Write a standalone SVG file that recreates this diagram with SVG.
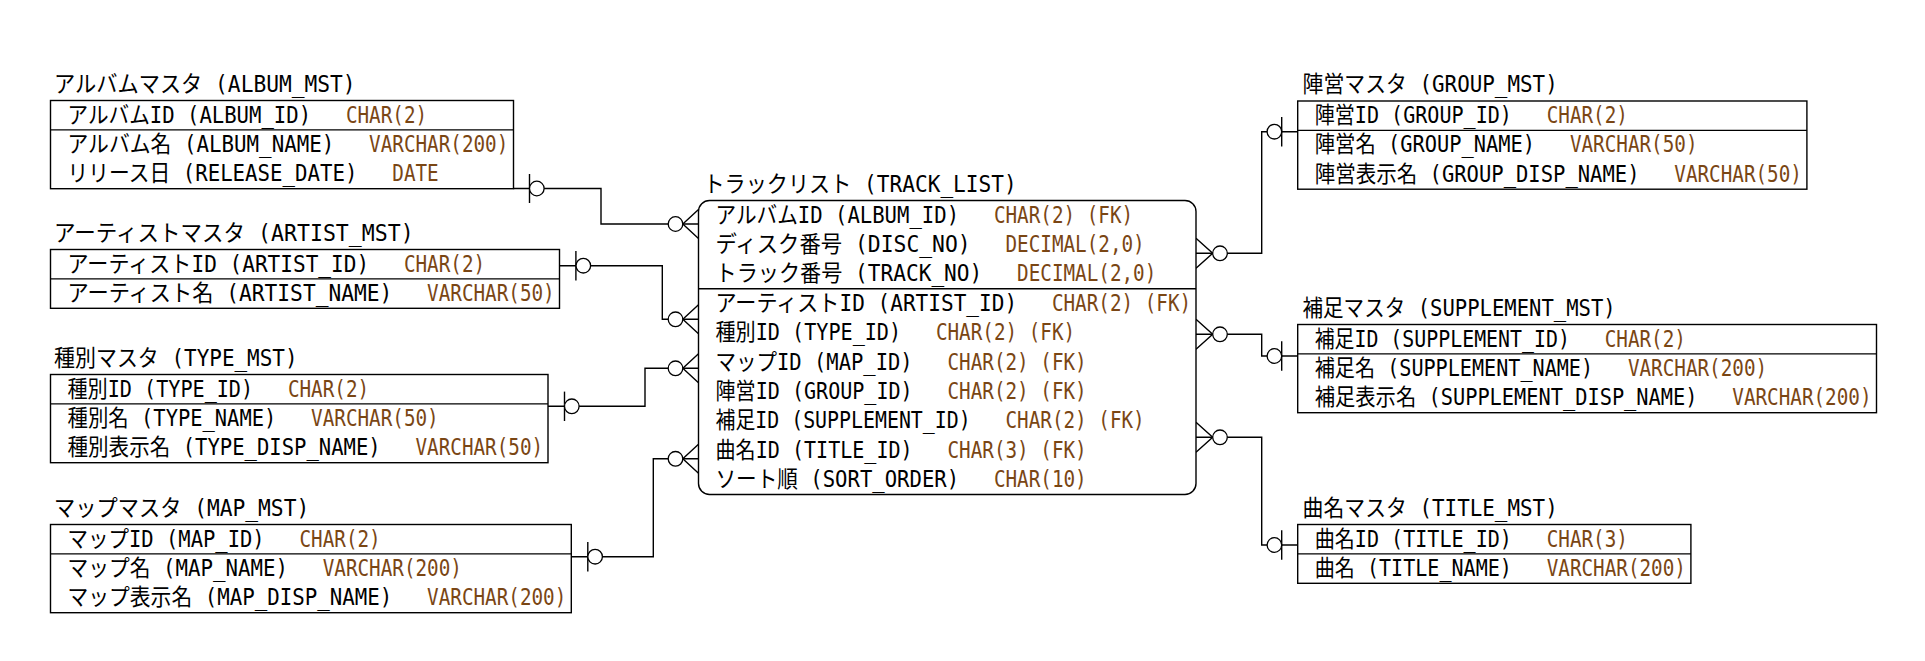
<svg xmlns="http://www.w3.org/2000/svg" width="1925" height="661" viewBox="0 0 1925 661">
<style>
text{font-family:"DejaVu Sans Mono","Noto Sans CJK JP",monospace;font-size:23px;fill:#000}
.ty{fill:#7a4614}
.box{fill:#fff;stroke:#000;stroke-width:1.4}
.div{stroke:#000;stroke-width:1.4}
.ln{fill:none;stroke:#000;stroke-width:1.4}
.cir{fill:#fff;stroke:#000;stroke-width:1.3}
</style>
<rect width="1925" height="661" fill="#fff"/>

<g id="connectors">
  <!-- album -> track -->
  <path class="ln" d="M513.5,188.5 H601 V224 H698.5"/>
  <path class="ln" d="M529.5,174 V203"/>
  <circle class="cir" cx="536.8" cy="188.5" r="7.3"/>
  <path class="ln" d="M682.8,224 L698.5,209.5 M682.8,224 L698.5,238.5"/>
  <circle class="cir" cx="675.5" cy="224" r="7.3"/>
  <!-- artist -> track -->
  <path class="ln" d="M559.5,265.7 H662.3 V319.3 H698.5"/>
  <path class="ln" d="M575.9,251 V280.4"/>
  <circle class="cir" cx="583.3" cy="265.7" r="7.3"/>
  <path class="ln" d="M682.8,319.3 L698.5,304.8 M682.8,319.3 L698.5,333.8"/>
  <circle class="cir" cx="675.5" cy="319.3" r="7.3"/>
  <!-- type -> track -->
  <path class="ln" d="M548,406.3 H645 V368.3 H698.5"/>
  <path class="ln" d="M564.5,391.6 V421"/>
  <circle class="cir" cx="571.8" cy="406.3" r="7.3"/>
  <path class="ln" d="M682.8,368.3 L698.5,353.8 M682.8,368.3 L698.5,382.8"/>
  <circle class="cir" cx="675.5" cy="368.3" r="7.3"/>
  <!-- map -> track -->
  <path class="ln" d="M571.3,556.7 H653.3 V458.8 H698.5"/>
  <path class="ln" d="M587.8,542 V571.4"/>
  <circle class="cir" cx="595.1" cy="556.7" r="7.3"/>
  <path class="ln" d="M682.8,458.8 L698.5,444.3 M682.8,458.8 L698.5,473.3"/>
  <circle class="cir" cx="675.5" cy="458.8" r="7.3"/>
  <!-- track -> group -->
  <path class="ln" d="M1196,253.3 H1261.7 V131.7 H1297.7"/>
  <path class="ln" d="M1196,238.3 L1212.7,253.3 L1196,268.3"/>
  <circle class="cir" cx="1220" cy="253.3" r="7.3"/>
  <path class="ln" d="M1281.7,117 V146.4"/>
  <circle class="cir" cx="1274.4" cy="131.7" r="7.3"/>
  <!-- track -> supplement -->
  <path class="ln" d="M1196,334.3 H1261.7 V356 H1297.7"/>
  <path class="ln" d="M1196,319.3 L1212.7,334.3 L1196,349.3"/>
  <circle class="cir" cx="1220" cy="334.3" r="7.3"/>
  <path class="ln" d="M1281.7,341.3 V370.7"/>
  <circle class="cir" cx="1274.4" cy="356" r="7.3"/>
  <!-- track -> title -->
  <path class="ln" d="M1196,437.3 H1261.7 V545 H1297.7"/>
  <path class="ln" d="M1196,422.3 L1212.7,437.3 L1196,452.3"/>
  <circle class="cir" cx="1220" cy="437.3" r="7.3"/>
  <path class="ln" d="M1281.7,530.3 V559.7"/>
  <circle class="cir" cx="1274.4" cy="545" r="7.3"/>
</g>

<g id="album_mst">
  <text x="54" y="91.7" textLength="301.6" lengthAdjust="spacingAndGlyphs">アルバムマスタ (ALBUM_MST)</text>
  <rect class="box" x="50.5" y="100.5" width="463" height="88.2"/>
  <line class="div" x1="50.5" y1="129.9" x2="513.5" y2="129.9"/>
  <text x="67.5" y="122.5" textLength="243.6" lengthAdjust="spacingAndGlyphs">アルバムID (ALBUM_ID)</text>
  <text class="ty" x="345.9" y="122.5" textLength="81.2" lengthAdjust="spacingAndGlyphs">CHAR(2)</text>
  <text x="67.5" y="151.9" textLength="266.8" lengthAdjust="spacingAndGlyphs">アルバム名 (ALBUM_NAME)</text>
  <text class="ty" x="369.1" y="151.9" textLength="139.2" lengthAdjust="spacingAndGlyphs">VARCHAR(200)</text>
  <text x="67.5" y="181.3" textLength="290" lengthAdjust="spacingAndGlyphs">リリース日 (RELEASE_DATE)</text>
  <text class="ty" x="392.3" y="181.3" textLength="46.4" lengthAdjust="spacingAndGlyphs">DATE</text>
</g>

<g id="artist_mst">
  <text x="54" y="241" textLength="359.6" lengthAdjust="spacingAndGlyphs">アーティストマスタ (ARTIST_MST)</text>
  <rect class="box" x="50.5" y="249.5" width="509" height="58.8"/>
  <line class="div" x1="50.5" y1="278.9" x2="559.5" y2="278.9"/>
  <text x="67.5" y="271.5" textLength="301.6" lengthAdjust="spacingAndGlyphs">アーティストID (ARTIST_ID)</text>
  <text class="ty" x="403.9" y="271.5" textLength="81.2" lengthAdjust="spacingAndGlyphs">CHAR(2)</text>
  <text x="67.5" y="300.9" textLength="324.8" lengthAdjust="spacingAndGlyphs">アーティスト名 (ARTIST_NAME)</text>
  <text class="ty" x="427.1" y="300.9" textLength="127.6" lengthAdjust="spacingAndGlyphs">VARCHAR(50)</text>
</g>

<g id="type_mst">
  <text x="54" y="365.5" textLength="243.6" lengthAdjust="spacingAndGlyphs">種別マスタ (TYPE_MST)</text>
  <rect class="box" x="50.5" y="374.5" width="497.5" height="88.2"/>
  <line class="div" x1="50.5" y1="403.9" x2="548" y2="403.9"/>
  <text x="67.5" y="396.5" textLength="185.6" lengthAdjust="spacingAndGlyphs">種別ID (TYPE_ID)</text>
  <text class="ty" x="287.9" y="396.5" textLength="81.2" lengthAdjust="spacingAndGlyphs">CHAR(2)</text>
  <text x="67.5" y="425.9" textLength="208.8" lengthAdjust="spacingAndGlyphs">種別名 (TYPE_NAME)</text>
  <text class="ty" x="311.1" y="425.9" textLength="127.6" lengthAdjust="spacingAndGlyphs">VARCHAR(50)</text>
  <text x="67.5" y="455.3" textLength="313.2" lengthAdjust="spacingAndGlyphs">種別表示名 (TYPE_DISP_NAME)</text>
  <text class="ty" x="415.5" y="455.3" textLength="127.6" lengthAdjust="spacingAndGlyphs">VARCHAR(50)</text>
</g>

<g id="map_mst">
  <text x="54" y="515.5" textLength="255.2" lengthAdjust="spacingAndGlyphs">マップマスタ (MAP_MST)</text>
  <rect class="box" x="50.5" y="524.5" width="520.8" height="88.2"/>
  <line class="div" x1="50.5" y1="553.9" x2="571.3" y2="553.9"/>
  <text x="67.5" y="546.5" textLength="197.2" lengthAdjust="spacingAndGlyphs">マップID (MAP_ID)</text>
  <text class="ty" x="299.5" y="546.5" textLength="81.2" lengthAdjust="spacingAndGlyphs">CHAR(2)</text>
  <text x="67.5" y="575.9" textLength="220.4" lengthAdjust="spacingAndGlyphs">マップ名 (MAP_NAME)</text>
  <text class="ty" x="322.7" y="575.9" textLength="139.2" lengthAdjust="spacingAndGlyphs">VARCHAR(200)</text>
  <text x="67.5" y="605.3" textLength="324.8" lengthAdjust="spacingAndGlyphs">マップ表示名 (MAP_DISP_NAME)</text>
  <text class="ty" x="427.1" y="605.3" textLength="139.2" lengthAdjust="spacingAndGlyphs">VARCHAR(200)</text>
</g>

<g id="track_list">
  <text x="703.5" y="191.7" textLength="313.2" lengthAdjust="spacingAndGlyphs">トラックリスト (TRACK_LIST)</text>
  <rect class="box" x="698.5" y="200.5" width="497.5" height="294" rx="11" ry="11"/>
  <line class="div" x1="698.5" y1="288.7" x2="1196" y2="288.7"/>
  <text x="715.5" y="222.5" textLength="243.6" lengthAdjust="spacingAndGlyphs">アルバムID (ALBUM_ID)</text>
  <text class="ty" x="993.9" y="222.5" textLength="139.2" lengthAdjust="spacingAndGlyphs">CHAR(2) (FK)</text>
  <text x="715.5" y="251.9" textLength="255.2" lengthAdjust="spacingAndGlyphs">ディスク番号 (DISC_NO)</text>
  <text class="ty" x="1005.5" y="251.9" textLength="139.2" lengthAdjust="spacingAndGlyphs">DECIMAL(2,0)</text>
  <text x="715.5" y="281.3" textLength="266.8" lengthAdjust="spacingAndGlyphs">トラック番号 (TRACK_NO)</text>
  <text class="ty" x="1017.1" y="281.3" textLength="139.2" lengthAdjust="spacingAndGlyphs">DECIMAL(2,0)</text>
  <text x="715.5" y="310.7" textLength="301.6" lengthAdjust="spacingAndGlyphs">アーティストID (ARTIST_ID)</text>
  <text class="ty" x="1051.9" y="310.7" textLength="139.2" lengthAdjust="spacingAndGlyphs">CHAR(2) (FK)</text>
  <text x="715.5" y="340.1" textLength="185.6" lengthAdjust="spacingAndGlyphs">種別ID (TYPE_ID)</text>
  <text class="ty" x="935.9" y="340.1" textLength="139.2" lengthAdjust="spacingAndGlyphs">CHAR(2) (FK)</text>
  <text x="715.5" y="369.5" textLength="197.2" lengthAdjust="spacingAndGlyphs">マップID (MAP_ID)</text>
  <text class="ty" x="947.5" y="369.5" textLength="139.2" lengthAdjust="spacingAndGlyphs">CHAR(2) (FK)</text>
  <text x="715.5" y="398.9" textLength="197.2" lengthAdjust="spacingAndGlyphs">陣営ID (GROUP_ID)</text>
  <text class="ty" x="947.5" y="398.9" textLength="139.2" lengthAdjust="spacingAndGlyphs">CHAR(2) (FK)</text>
  <text x="715.5" y="428.3" textLength="255.2" lengthAdjust="spacingAndGlyphs">補足ID (SUPPLEMENT_ID)</text>
  <text class="ty" x="1005.5" y="428.3" textLength="139.2" lengthAdjust="spacingAndGlyphs">CHAR(2) (FK)</text>
  <text x="715.5" y="457.7" textLength="197.2" lengthAdjust="spacingAndGlyphs">曲名ID (TITLE_ID)</text>
  <text class="ty" x="947.5" y="457.7" textLength="139.2" lengthAdjust="spacingAndGlyphs">CHAR(3) (FK)</text>
  <text x="715.5" y="487.1" textLength="243.6" lengthAdjust="spacingAndGlyphs">ソート順 (SORT_ORDER)</text>
  <text class="ty" x="993.9" y="487.1" textLength="92.8" lengthAdjust="spacingAndGlyphs">CHAR(10)</text>
</g>

<g id="group_mst">
  <text x="1302.5" y="92" textLength="255.2" lengthAdjust="spacingAndGlyphs">陣営マスタ (GROUP_MST)</text>
  <rect class="box" x="1297.7" y="101" width="509.2" height="88.2"/>
  <line class="div" x1="1297.7" y1="130.4" x2="1806.9" y2="130.4"/>
  <text x="1314.7" y="123" textLength="197.2" lengthAdjust="spacingAndGlyphs">陣営ID (GROUP_ID)</text>
  <text class="ty" x="1546.7" y="123" textLength="81.2" lengthAdjust="spacingAndGlyphs">CHAR(2)</text>
  <text x="1314.7" y="152.4" textLength="220.4" lengthAdjust="spacingAndGlyphs">陣営名 (GROUP_NAME)</text>
  <text class="ty" x="1569.9" y="152.4" textLength="127.6" lengthAdjust="spacingAndGlyphs">VARCHAR(50)</text>
  <text x="1314.7" y="181.8" textLength="324.8" lengthAdjust="spacingAndGlyphs">陣営表示名 (GROUP_DISP_NAME)</text>
  <text class="ty" x="1674.3" y="181.8" textLength="127.6" lengthAdjust="spacingAndGlyphs">VARCHAR(50)</text>
</g>

<g id="supplement_mst">
  <text x="1302.5" y="315.5" textLength="313.2" lengthAdjust="spacingAndGlyphs">補足マスタ (SUPPLEMENT_MST)</text>
  <rect class="box" x="1297.7" y="324.5" width="578.8" height="88.2"/>
  <line class="div" x1="1297.7" y1="353.9" x2="1876.5" y2="353.9"/>
  <text x="1314.7" y="346.5" textLength="255.2" lengthAdjust="spacingAndGlyphs">補足ID (SUPPLEMENT_ID)</text>
  <text class="ty" x="1604.7" y="346.5" textLength="81.2" lengthAdjust="spacingAndGlyphs">CHAR(2)</text>
  <text x="1314.7" y="375.9" textLength="278.4" lengthAdjust="spacingAndGlyphs">補足名 (SUPPLEMENT_NAME)</text>
  <text class="ty" x="1627.9" y="375.9" textLength="139.2" lengthAdjust="spacingAndGlyphs">VARCHAR(200)</text>
  <text x="1314.7" y="405.3" textLength="382.8" lengthAdjust="spacingAndGlyphs">補足表示名 (SUPPLEMENT_DISP_NAME)</text>
  <text class="ty" x="1732.3" y="405.3" textLength="139.2" lengthAdjust="spacingAndGlyphs">VARCHAR(200)</text>
</g>

<g id="title_mst">
  <text x="1302.5" y="515.5" textLength="255.2" lengthAdjust="spacingAndGlyphs">曲名マスタ (TITLE_MST)</text>
  <rect class="box" x="1297.7" y="524.5" width="393.2" height="58.8"/>
  <line class="div" x1="1297.7" y1="553.9" x2="1690.9" y2="553.9"/>
  <text x="1314.7" y="546.5" textLength="197.2" lengthAdjust="spacingAndGlyphs">曲名ID (TITLE_ID)</text>
  <text class="ty" x="1546.7" y="546.5" textLength="81.2" lengthAdjust="spacingAndGlyphs">CHAR(3)</text>
  <text x="1314.7" y="575.9" textLength="197.2" lengthAdjust="spacingAndGlyphs">曲名 (TITLE_NAME)</text>
  <text class="ty" x="1546.7" y="575.9" textLength="139.2" lengthAdjust="spacingAndGlyphs">VARCHAR(200)</text>
</g>
</svg>
